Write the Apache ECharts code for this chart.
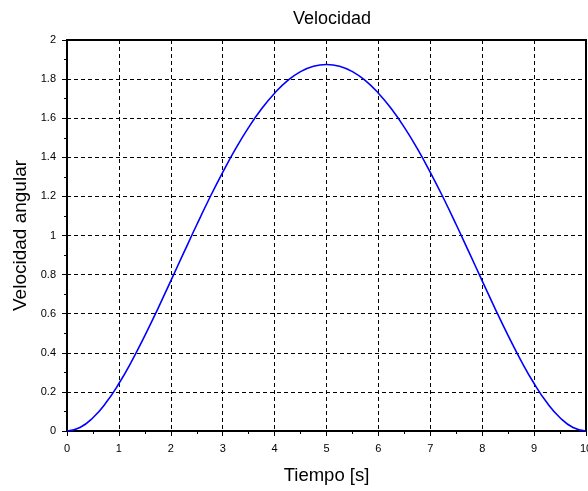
<!DOCTYPE html>
<html><head><meta charset="utf-8">
<script src="https://cdn.jsdelivr.net/npm/echarts@6/dist/echarts.min.js"></script>
<style>html,body{margin:0;padding:0;background:#fff}#c{width:588px;height:491px}</style>
</head><body><div id="c"></div>
<script>
var tiempo = [0,0.25,0.5,0.75,1,1.25,1.5,1.75,2,2.25,2.5,2.75,3,3.25,3.5,3.75,4,4.25,4.5,4.75,5,5.25,5.5,5.75,6,6.25,6.5,6.75,7,7.25,7.5,7.75,8,8.25,8.5,8.75,9,9.25,9.5,9.75,10];
var velocidad = [0,0.018,0.068,0.144,0.243,0.359,0.488,0.625,0.768,0.912,1.055,1.193,1.323,1.444,1.553,1.648,1.728,1.792,1.838,1.866,1.875,1.866,1.838,1.792,1.728,1.648,1.553,1.444,1.323,1.193,1.055,0.912,0.768,0.625,0.488,0.359,0.243,0.144,0.068,0.018,0];
var titulo = "Velocidad";
var ejeX = "Tiempo [s]";
var ejeY = "Velocidad angular";

var chart = echarts.init(document.getElementById('c'), null, {renderer:'canvas'});
var font = 'Liberation Sans, Arial, sans-serif';
var pts = tiempo.map(function(t,i){return [t, velocidad[i]];});
chart.setOption({
  animation:false,
  backgroundColor:'#fff',
  title:{text:titulo,left:327,top:5,textAlign:'center',textStyle:{fontFamily:font,fontSize:18,fontWeight:'normal',color:'#000'}},
  grid:{left:67,right:2,top:40,bottom:60,outerBoundsMode:'none',containLabel:false,show:true,borderColor:'#000',borderWidth:2,backgroundColor:'transparent'},
  xAxis:{type:'value',min:0,max:10,interval:1,
    name:ejeX,nameLocation:'middle',nameGap:35,
    nameTextStyle:{fontFamily:font,fontSize:18.5,color:'#000'},
    axisLine:{show:true,onZero:false,lineStyle:{color:'#000',width:2}},
    axisTick:{show:true,inside:false,length:5,lineStyle:{color:'#000',width:1}},
    minorTick:{show:true,splitNumber:2,length:3,lineStyle:{color:'#000'}},
    axisLabel:{fontFamily:font,fontSize:11,color:'#000',margin:12},
    splitLine:{show:true,lineStyle:{color:'#000',type:[4,3],width:1}}
  },
  yAxis:{type:'value',min:0,max:2,interval:0.2,
    name:ejeY,nameLocation:'middle',nameGap:36,nameRotate:90,
    nameTextStyle:{fontFamily:font,fontSize:19,color:'#000'},
    axisLine:{show:true,onZero:false,lineStyle:{color:'#000',width:2}},
    axisTick:{show:true,inside:false,length:5,lineStyle:{color:'#000',width:1}},
    minorTick:{show:true,splitNumber:2,length:3,lineStyle:{color:'#000'}},
    axisLabel:{fontFamily:font,fontSize:11,color:'#000',margin:11,formatter:function(v){return String(Math.round(v*10)/10);}},
    splitLine:{show:true,lineStyle:{color:'#000',type:[4,3],width:1}}
  },
  series:[{type:'line',data:pts,smooth:true,showSymbol:false,lineStyle:{color:'#0000ff',width:1.6},z:5}]
});
</script>
</body></html>
